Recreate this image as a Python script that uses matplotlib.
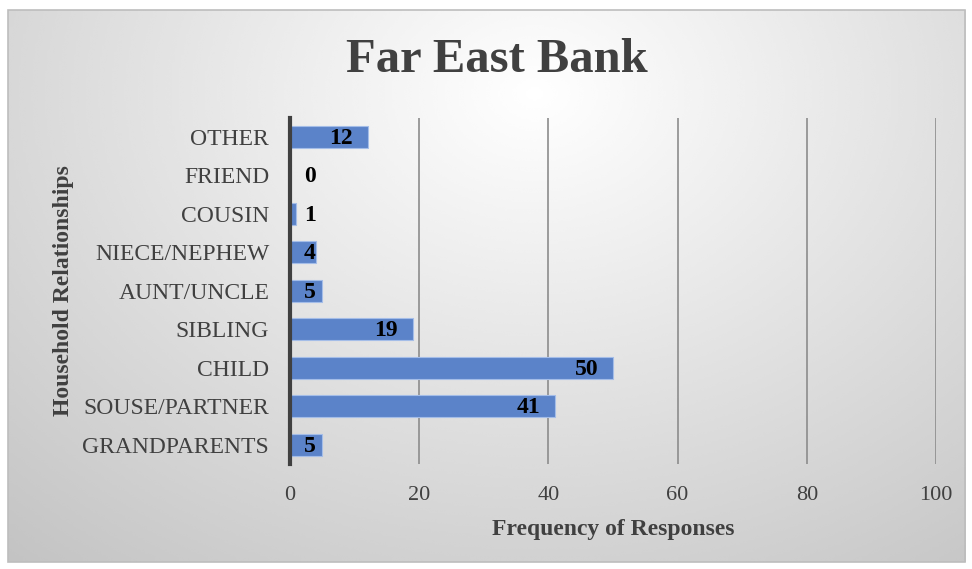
import numpy as np
import matplotlib.pyplot as plt
from matplotlib.patches import Rectangle

# data (bottom to top, as drawn)
categories = ["GRANDPARENTS", "SOUSE/PARTNER", "CHILD", "SIBLING", "AUNT/UNCLE",
              "NIECE/NEPHEW", "COUSIN", "FRIEND", "OTHER"]
counts = [5, 41, 50, 19, 5, 4, 1, 0, 12]
xticks = [0, 20, 40, 60, 80, 100]

plt.rcParams['font.family'] = ['Liberation Serif', 'DejaVu Serif']

W, H = 972, 569
fig = plt.figure(figsize=(W / 100, H / 100), dpi=100)

# background frame with radial gradient
bg = fig.add_axes([0, 0, 1, 1], zorder=-1)
bg.set_xlim(0, W)
bg.set_ylim(H, 0)
bg.axis("off")
x0, x1, y0, y1 = 8, 965, 10, 562
gx, gy = np.meshgrid(np.linspace(0, 1, 400), np.linspace(0, 1, 240))
r = np.sqrt(((gx - 0.55) / 0.75) ** 2 + ((gy - 0.15) / 1.0) ** 2)
shade = 1.0 - 0.21 * np.clip(r, 0, 1.25) / 1.0
bg.imshow(shade, cmap="gray", vmin=0, vmax=1, extent=[x0, x1, y1, y0],
          aspect="auto", interpolation="bicubic")
bg.add_patch(Rectangle((x0, y0), x1 - x0, y1 - y0, fill=False,
                       edgecolor="#bdbdbd", lw=1.2))

ax = fig.add_axes([290 / W, 1 - 464 / H, (936 - 290) / W, (464 - 117.5) / H])
ax.patch.set_alpha(0)
y = np.arange(len(categories))
ax.barh(y, counts, height=0.57, color="#5B83C9", edgecolor="#a4bde8", lw=0.8, zorder=3)

ax.set_xlim(0, 100)
ax.set_ylim(-0.5, len(categories) - 0.5)
ax.set_xticks(xticks)
ax.set_yticks(y)
ax.set_yticklabels(categories)
ax.tick_params(axis="both", length=0, colors="#404040")
ax.tick_params(axis="y", labelsize=17, pad=15)
ax.tick_params(axis="x", labelsize=16, pad=16)
ax.xaxis.grid(True, color="#8c8c8c", lw=1.2, zorder=1)
for s in ["top", "right", "bottom"]:
    ax.spines[s].set_visible(False)
ax.spines["left"].set_color("#404040")
ax.spines["left"].set_linewidth(3)
ax.spines["left"].set_zorder(4)

for yi, v in zip(y, counts):
    ax.text(max(v - 2.3, 4.0), yi - 0.04, str(v), ha="right", va="center",
            fontsize=17, fontweight="bold", color="black", zorder=5)

ax.set_xlabel("Frequency of Responses", fontsize=17, fontweight="bold",
              color="#404040", labelpad=10)
ax.set_ylabel("Household Relationships", fontsize=17, fontweight="bold",
              color="#404040", labelpad=6)
fig.text(497 / W, 1 - 60 / H, "Far East Bank", ha="center", va="center",
         fontsize=35, fontweight="bold", color="#404040")

fig.savefig("out.png", dpi=100)
